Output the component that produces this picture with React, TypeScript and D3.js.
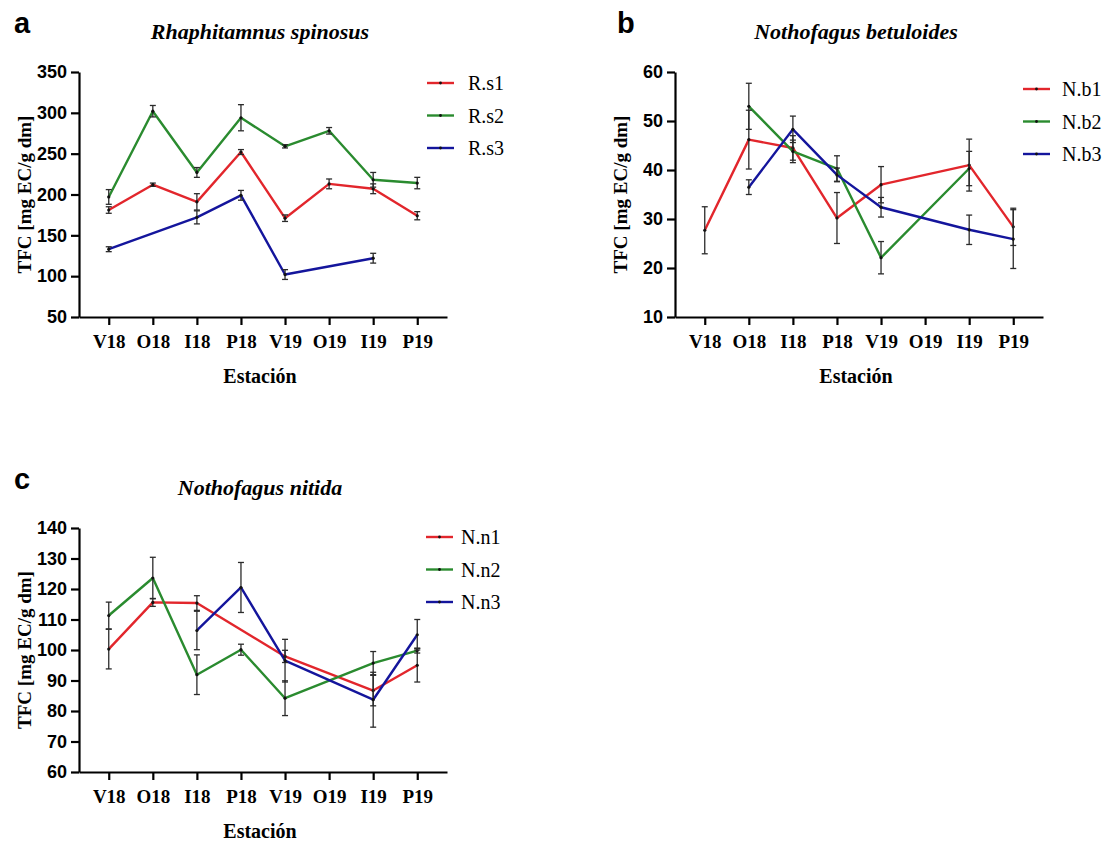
import React, { useEffect, useRef } from 'react'
import * as d3 from 'd3'

const stations = ['V18', 'O18', 'I18', 'P18', 'V19', 'O19', 'I19', 'P19']
const seriesColors = ['#e2262c', '#2a8b2f', '#14159c']

// a - Rhaphitamnus spinosus
const rsNames = ['R.s1', 'R.s2', 'R.s3']
const rs1 = [181, 212, 191, 252, 171, 213, 207, 174]
const rs1Err = [4, 2, 10, 3, 4, 6, 6, 5]
const rs2 = [197, 302, 227, 294, 259, 278, 218, 214]
const rs2Err = [9, 7, 6, 16, 2, 4, 9, 7]
const rs3 = [133, null, 172, 199, 102, null, 122, null]
const rs3Err = [3, null, 8, 6, 6, null, 6, null]
const rsTicks = [50, 100, 150, 200, 250, 300, 350]

// b - Nothofagus betuloides
const nbNames = ['N.b1', 'N.b2', 'N.b3']
const nb1 = [27.7, 46.2, 44.5, 30.2, 37, null, 41, 28.4]
const nb1Err = [4.8, 6, 2.5, 5.2, 3.7, null, 5.3, 3.8]
const nb2 = [null, 53, 43.8, 40.3, 22.1, null, 40.3, null]
const nb2Err = [null, 4.7, 2.3, 2.6, 3.3, null, 3.5, null]
const nb3 = [null, 36.5, 48.3, 39, 32.4, null, 27.8, 25.9]
const nb3Err = [null, 1.5, 2.7, 1.4, 2, null, 3, 6]
const nbTicks = [10, 20, 30, 40, 50, 60]

// c - Nothofagus nitida
const nnNames = ['N.n1', 'N.n2', 'N.n3']
const nn1 = [100.3, 115.6, 115.4, null, 97.9, null, 86.7, 95]
const nn1Err = [6.5, 1.3, 2.4, null, 2, null, 5, 5.5]
const nn2 = [111.3, 123.6, 91.9, 100.1, 84.2, null, 95.7, 99.8]
const nn2Err = [4.4, 6.8, 6.5, 1.8, 5.7, null, 3.8, 0.8]
const nn3 = [null, null, 106.4, 120.5, 96.5, null, 83.7, 105]
const nn3Err = [null, null, 6.3, 8.2, 7, null, 9, 5]
const nnTicks = [60, 70, 80, 90, 100, 110, 120, 130, 140]

const panels = [
  {
    letter: 'a', title: 'Rhaphitamnus spinosus', names: rsNames,
    means: [rs1, rs2, rs3], errs: [rs1Err, rs2Err, rs3Err], ticks: rsTicks,
    left: 79, right: 447, top: 72, bottom: 317, letterX: 14,
    legendX: 427, legendY: 83, legendTextX: 468
  },
  {
    letter: 'b', title: 'Nothofagus betuloides', names: nbNames,
    means: [nb1, nb2, nb3], errs: [nb1Err, nb2Err, nb3Err], ticks: nbTicks,
    left: 675, right: 1043, top: 72, bottom: 317, letterX: 617,
    legendX: 1023, legendY: 89, legendTextX: 1062
  },
  {
    letter: 'c', title: 'Nothofagus nitida', names: nnNames,
    means: [nn1, nn2, nn3], errs: [nn1Err, nn2Err, nn3Err], ticks: nnTicks,
    left: 79, right: 447, top: 528, bottom: 772, letterX: 14,
    legendX: 426, legendY: 537, legendTextX: 461
  }
]

const serif = '"Liberation Serif", "Times New Roman", serif'
const sans = '"Liberation Sans", Arial, sans-serif'

const App = () => {
  const ref = useRef(null)

  useEffect(() => {
    const svg = d3.select(ref.current)
    svg.selectAll('*').remove()

    panels.forEach(p => {
      const g = svg.append('g')
      const x = d3.scalePoint().domain(stations).range([p.left, p.right]).padding(0.675)
      const y = d3
        .scaleLinear()
        .domain([p.ticks[0], p.ticks[p.ticks.length - 1]])
        .range([p.bottom, p.top])
      const midX = (p.left + p.right) / 2 - 3

      // panel letter + title
      g.append('text')
        .attr('x', p.letterX)
        .attr('y', p.top - 39)
        .attr('font-family', sans)
        .attr('font-weight', 'bold')
        .attr('font-size', 29)
        .text(p.letter)

      g.append('text')
        .attr('x', midX)
        .attr('y', p.top - 33)
        .attr('text-anchor', 'middle')
        .attr('font-family', serif)
        .attr('font-weight', 'bold')
        .attr('font-style', 'italic')
        .attr('font-size', 22)
        .text(p.title)

      // axes
      const yAxis = g
        .append('g')
        .attr('transform', 'translate(' + p.left + ',0)')
        .call(d3.axisLeft(y).tickValues(p.ticks).tickSize(8).tickSizeOuter(0).tickPadding(4))
      yAxis.select('.domain').attr('stroke-width', 2.2)
      yAxis.selectAll('line').attr('stroke-width', 2.2)
      yAxis.selectAll('text')
        .attr('font-family', sans)
        .attr('font-weight', 'bold')
        .attr('font-size', 18)
        .attr('fill', '#000')

      const xAxis = g
        .append('g')
        .attr('transform', 'translate(0,' + p.bottom + ')')
        .call(d3.axisBottom(x).tickSize(8).tickSizeOuter(0).tickPadding(10))
      xAxis.select('.domain').attr('stroke-width', 2.2)
      xAxis.selectAll('line').attr('stroke-width', 2.2)
      xAxis.selectAll('text')
        .attr('font-family', serif)
        .attr('font-weight', 'bold')
        .attr('font-size', 19)
        .attr('fill', '#000')

      g.append('text')
        .attr('x', midX)
        .attr('y', p.bottom + 66)
        .attr('text-anchor', 'middle')
        .attr('font-family', serif)
        .attr('font-weight', 'bold')
        .attr('font-size', 20)
        .text('Estación')

      g.append('text')
        .attr('transform', 'translate(' + (p.left - 48) + ',' + (p.top + p.bottom) / 2 + ') rotate(-90)')
        .attr('text-anchor', 'middle')
        .attr('font-family', serif)
        .attr('font-weight', 'bold')
        .attr('font-size', 19)
        .text('TFC [mg EC/g dm]')

      // series
      const series = p.means.map((vals, si) =>
        vals
          .map((v, i) => ({ station: stations[i], v, e: p.errs[si][i] }))
          .filter(d => d.v != null)
      )

      const line = d3
        .line()
        .x(d => x(d.station))
        .y(d => y(d.v))

      series.forEach((pts, si) => {
        g.append('path')
          .datum(pts)
          .attr('d', line)
          .attr('fill', 'none')
          .attr('stroke', seriesColors[si])
          .attr('stroke-width', 2.4)
          .attr('stroke-linejoin', 'round')
      })

      series.forEach(pts => {
        const eb = g.append('g').attr('stroke', '#2b2b2b').attr('stroke-width', 1.3)
        pts.forEach(d => {
          const cx = x(d.station)
          const y1 = y(d.v - d.e)
          const y2 = y(d.v + d.e)
          eb.append('line').attr('x1', cx).attr('x2', cx).attr('y1', y1).attr('y2', y2)
          eb.append('line').attr('x1', cx - 3).attr('x2', cx + 3).attr('y1', y1).attr('y2', y1)
          eb.append('line').attr('x1', cx - 3).attr('x2', cx + 3).attr('y1', y2).attr('y2', y2)
        })
        g.append('g')
          .selectAll('circle')
          .data(pts)
          .enter()
          .append('circle')
          .attr('cx', d => x(d.station))
          .attr('cy', d => y(d.v))
          .attr('r', 1.6)
          .attr('fill', '#111')
      })

      // legend
      p.names.forEach((name, si) => {
        const ly = p.legendY + si * 32.5
        g.append('line')
          .attr('x1', p.legendX)
          .attr('x2', p.legendX + 27)
          .attr('y1', ly)
          .attr('y2', ly)
          .attr('stroke', seriesColors[si])
          .attr('stroke-width', 2.4)
        g.append('circle')
          .attr('cx', p.legendX + 13.5)
          .attr('cy', ly)
          .attr('r', 1.4)
          .attr('fill', '#111')
        g.append('text')
          .attr('x', p.legendTextX)
          .attr('y', ly + 7)
          .attr('font-family', serif)
          .attr('font-size', 20)
          .text(name)
      })
    })
  }, [])

  return (
    <svg
      ref={ref}
      width={1105}
      height={841}
      style={{ position: 'absolute', left: 0, top: 0, background: '#fff' }}
    />
  )
}

export default App
